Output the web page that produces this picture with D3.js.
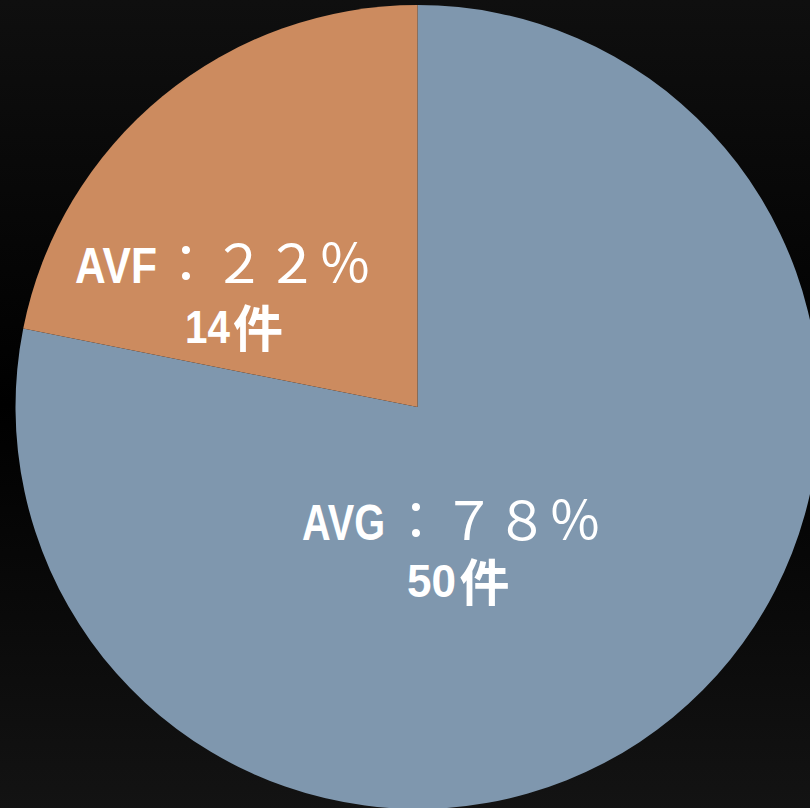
<!DOCTYPE html>
<html>
<head>
<meta charset="utf-8">
<script src="https://cdn.jsdelivr.net/npm/d3@7"></script>
<style>
  html, body { margin: 0; padding: 0; background: #000; }
  svg { display: block; }
</style>
</head>
<body>
<svg id="chart" width="810" height="808"></svg>
<script>
// Datos del gráfico
const categorias = ["AVG", "AVF"];
const casos = [50, 14];
const porcentajes = ["７８％", "２２％"];
const colores = ["#7f97ae", "#cc8b5f"];

const svg = d3.select("#chart");
const width = +svg.attr("width");
const height = +svg.attr("height");

// Fondo con degradado oscuro
const defs = svg.append("defs");
const grad = defs.append("linearGradient")
  .attr("id", "fondo").attr("x1", 0).attr("y1", 0).attr("x2", 0).attr("y2", 1);
grad.append("stop").attr("offset", "0%").attr("stop-color", "#0f0f0f");
grad.append("stop").attr("offset", "50%").attr("stop-color", "#000");
grad.append("stop").attr("offset", "100%").attr("stop-color", "#131313");
svg.append("rect").attr("width", width).attr("height", height).attr("fill", "url(#fondo)");

const cx = 417.5, cy = 407, radius = 402;
const g = svg.append("g").attr("transform", `translate(${cx},${cy})`);

const datos = categorias.map((c, i) => ({cat: c, valor: casos[i], pct: porcentajes[i]}));
const color = d3.scaleOrdinal().domain(categorias).range(colores);

const pie = d3.pie().sort(null).value(d => d.valor);
const arc = d3.arc().innerRadius(0).outerRadius(radius);

g.selectAll("path")
  .data(pie(datos))
  .enter()
  .append("path")
  .attr("d", arc)
  .attr("fill", d => color(d.data.cat));

// Posición de etiquetas (respecto al centro de la tarta)
// l: nombre, c: porcentaje, n: número, k: "件"
const posEtiquetas = {
  AVG: {lx: -115.5, ly: 133, lw: 83, cx: -28, nx: -10.5, ny: 190, nw: 49, kx: 42},
  AVF: {lx: -342.5, ly: -124, lw: 82, cx: -258, nx: -232.5, ny: -64, nw: 45, kx: -184.5}
};

const latin = "'Liberation Sans', Arial, sans-serif";
const cjk = "'Noto Sans CJK JP', sans-serif";

datos.forEach(d => {
  const p = posEtiquetas[d.cat];
  g.append("text")
    .attr("x", p.lx).attr("y", p.ly)
    .attr("font-family", latin).attr("font-weight", "bold").attr("font-size", 50)
    .attr("textLength", p.lw).attr("lengthAdjust", "spacingAndGlyphs")
    .attr("fill", "#fff")
    .text(d.cat);
  g.append("text")
    .attr("x", p.cx).attr("y", p.ly)
    .attr("font-family", cjk).attr("font-size", 53)
    .attr("fill", "#fff")
    .text("：" + d.pct);
  g.append("text")
    .attr("x", p.nx).attr("y", p.ny)
    .attr("font-family", latin).attr("font-weight", "bold").attr("font-size", 46)
    .attr("textLength", p.nw).attr("lengthAdjust", "spacingAndGlyphs")
    .attr("fill", "#fff")
    .text(d.valor);
  g.append("text")
    .attr("x", p.kx).attr("y", p.ny + 4)
    .attr("font-family", cjk).attr("font-weight", "bold").attr("font-size", 50)
    .attr("fill", "#fff")
    .text("件");
});
</script>
</body>
</html>
